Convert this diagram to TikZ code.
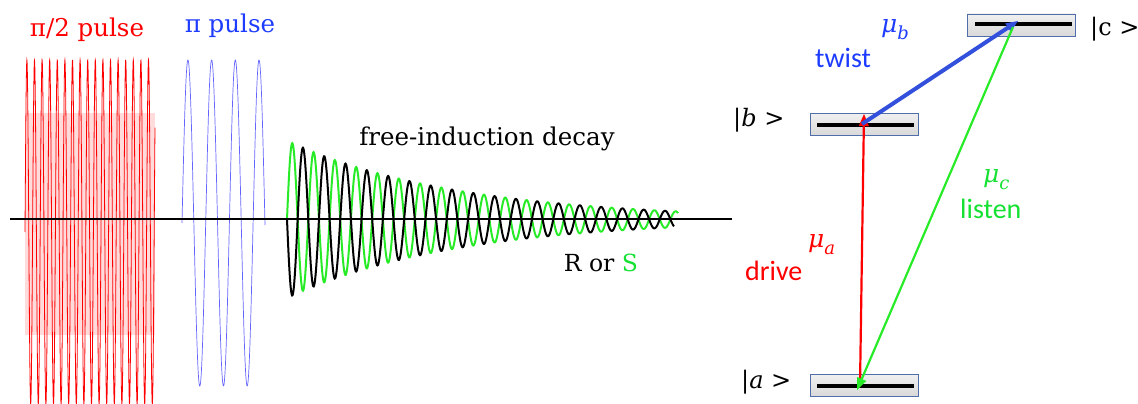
\documentclass[tikz,border=0pt]{standalone}
\usepackage{fontspec}
\setmainfont{DejaVu Serif}
\newfontfamily\calib{Carlito}
\usetikzlibrary{calc}
\definecolor{pred}{RGB}{255,0,0}
\definecolor{pblue}{RGB}{30,60,255}
\definecolor{wblue}{RGB}{100,100,255}
\definecolor{ablue}{RGB}{50,80,220}
\definecolor{pgreen}{RGB}{40,235,40}
\definecolor{tgreen}{RGB}{20,225,50}
\definecolor{boxedge}{RGB}{80,110,170}
\newcommand{\mulab}[1]{\textit{μ}\raisebox{-0.28em}{\fontsize{18}{20}\selectfont\textit{#1}}}
\newcommand{\headtri}[3]{% color, from, to
  \fill[#1] (#3) -- ($($(#3)!12pt!(#2)$)!5pt!90:(#3)$) -- ($($(#3)!12pt!(#2)$)!5pt!-90:(#3)$) -- cycle;}
\tikzset{
  lbl/.style={inner sep=0pt, font=\fontsize{24.5}{28}\selectfont},
  sanslbl/.style={inner sep=0pt, font=\calib\fontsize{28}{31}\selectfont},
  mulbl/.style={inner sep=0pt, font=\fontsize{25}{30}\selectfont},
  ketlbl/.style={inner sep=0pt, font=\fontsize{24}{28}\selectfont, anchor=base west},
  levelbox/.style={draw=boxedge, line width=0.8pt, top color=gray!12, bottom color=gray!30, minimum width=108pt, minimum height=22pt, inner sep=0pt},
  levelbar/.style={line width=4pt, black},
  trline/.style={shorten >=9pt}
}
\begin{document}
\begin{tikzpicture}[x=1pt,y=-1pt]
\useasboundingbox (0,0) rectangle (1138,404);
\begin{scope}
\clip (0,0) rectangle (1138,404);
% pi/2 pulse
\fill[red!14] (25,113) rectangle (155,335);
\draw[pred, line width=0.8pt, domain=25:155, samples=900] plot (\x, {232 - 172*sin((\x-25)/7.6*360)});
% pi pulse
\draw[wblue, line width=0.7pt, domain=182:265, samples=300] plot (\x, {223 - 163*sin((\x-182)/23.7*360)});
% FID
\draw[pgreen, line width=2pt, domain=287:678, samples=900] plot (\x, {219.3 - 78.5*exp(-(\x-287)/170)*sin((\x-287)/21.3*360)});
\draw[black, line width=2pt, domain=287:674, samples=900] plot (\x, {219.3 + 78.5*exp(-(\x-287)/170)*sin((\x-287)/21.3*360)});
\end{scope}
% axis
\draw[black, line width=2.2pt] (10,219.3) -- (732,219.3);
% pulse labels
\node[lbl, text=pred, anchor=base] (t1) at (87,37) {π/2 pulse};
\node[lbl, text=pblue, anchor=base] (t2) at (230,33) {π pulse};
\node[lbl, anchor=base] (t3) at (487,145) {free-induction decay};
\node[lbl, anchor=base, font=\fontsize{23.5}{28}\selectfont] (t4) at (601,271) {R or \textcolor{tgreen}{S}};
% levels
\node[levelbox] (C) at (1021,25) {};
\node[levelbox] (B) at (864,124.5) {};
\node[levelbox] (A) at (864,385.5) {};
\draw[levelbar] (975,24) -- (1072,24);
\draw[levelbar] (817,125) -- (914,125);
\draw[levelbar] (817,386) -- (914,386);
\coordinate (a1) at (860,386);
\coordinate (a2) at (857,390);
\coordinate (b1) at (864,114);
\coordinate (b2) at (862,124);
\coordinate (c1) at (1018,21);
\coordinate (c2) at (1013,27);
% transitions
\draw[pred, line width=2.2pt, trline] (a1) -- (b1);
\headtri{pred}{a1}{b1}
\draw[ablue, line width=4pt, trline] (b2) -- (c1);
\headtri{ablue}{b2}{c1}
\draw[pgreen, line width=2.2pt, trline] (c2) -- (a2);
\headtri{pgreen}{c2}{a2}
% ket labels
\node[ketlbl] (kc) at (1090,36) {|c >};
\node[ketlbl] (kb) at (733,126) {|\textit{b} >};
\node[ketlbl] (ka) at (741,388) {|\textit{a} >};
% transition labels
\node[mulbl, anchor=base west, text=pblue] (mub) at (881,33) {\mulab{b}};
\node[sanslbl, anchor=base west, text=pblue] (tw) at (815,68) {twist};
\node[mulbl, anchor=base west, text=tgreen] (muc) at (983,182) {\mulab{c}};
\node[sanslbl, anchor=base west, text=tgreen] (li) at (960,218) {listen};
\node[mulbl, anchor=base west, text=pred] (mua) at (808,247) {\mulab{a}};
\node[sanslbl, anchor=base west, text=pred] (dr) at (745,280) {drive};
\end{tikzpicture}
\end{document}
